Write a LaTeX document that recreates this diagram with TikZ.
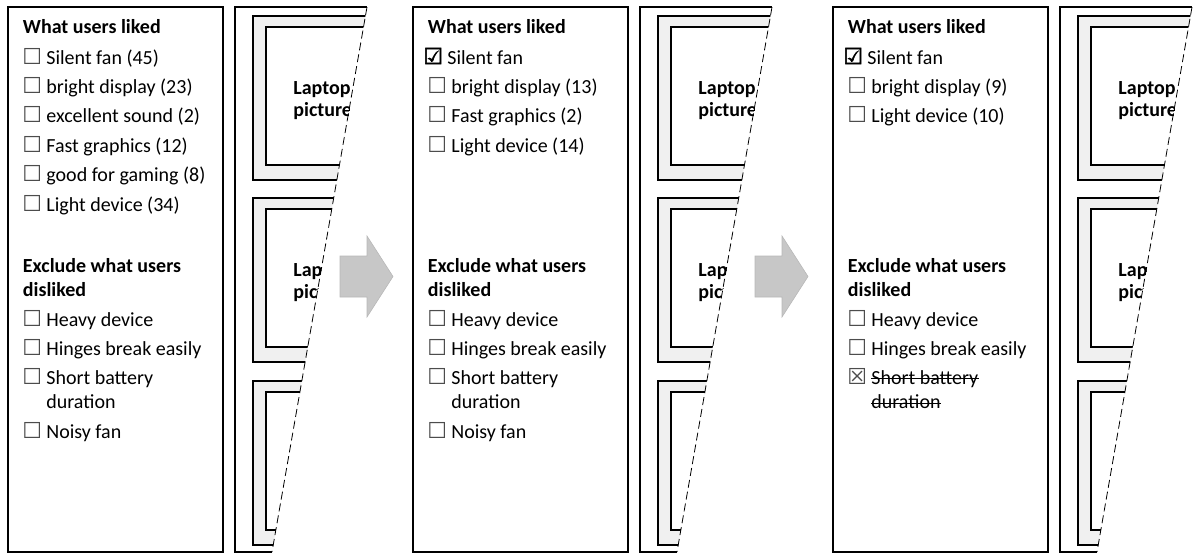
\documentclass[tikz,border=0pt]{standalone}
\usepackage{fontspec}
\setmainfont{Carlito}
\newfontfamily\symfont{DejaVu Sans}
\newfontfamily\boldsymfont[FakeBold=2.5]{DejaVu Sans}

\tikzset{
  listbox/.style={draw, line width=0.8pt},
  stripedge/.style={line width=0.8pt},
  cutline/.style={line width=0.4pt, dash pattern=on 4pt off 2pt},
  cardouter/.style={draw, line width=0.7pt, fill=black!6},
  cardinner/.style={draw, line width=0.7pt, fill=white},
  cardtext/.style={anchor=base west, inner sep=0pt, font=\fontsize{10}{11}\selectfont\bfseries},
  heading/.style={anchor=base west, inner sep=0pt, font=\fontsize{10}{12.2}\selectfont\bfseries},
  entry/.style={anchor=base west, inner sep=0pt, font=\fontsize{10}{12.2}\selectfont},
  tick/.style={anchor=base west, inner sep=0pt, font=\fontsize{11}{12}\symfont, text=black!70},
  ticked/.style={tick, font=\fontsize{11}{12}\boldsymfont, text=black},
  strike/.style={line width=0.4pt},
  nextstep/.style={fill=black!22, draw=black!28, line width=0.3pt},
}

\begin{document}
\begin{tikzpicture}[x=0.5pt, y=-0.5pt]
\useasboundingbox (0,0) rectangle (1193,553);

% three screens: the filter list and a strip of laptop cards cut off
\foreach \px/\p in {8/a, 413/b, 833/c} {
\begin{scope}[shift={(\px,0)}]
  \draw[listbox] (0,7) rectangle (215,552);
  \begin{scope}
    \clip (227,7) -- (359,7) -- (264,552) -- (227,552) -- cycle;
    \foreach \t [count=\k] in {16, 198, 381} {
      \draw[cardouter] (245,\t) rectangle (420,\t+164);
      \draw[cardinner] (258,\t+11) rectangle (420,\t+149);
      \node[cardtext] (\p-pic\k) at (285,\t+78) {Laptop};
      \node[cardtext] (\p-pic\k b) at (285,\t+100) {picture};
    }
  \end{scope}
  \draw[stripedge] (359,7) -- (227,7) -- (227,552) -- (264,552);
  \draw[cutline] (359,7) -- (264,552);
  % second half of the list is the same on every screen
  \node[heading] (\p-dislike) at (14.5,272) {Exclude what users};
  \node[heading] (\p-dislikeb) at (14.5,296.4) {disliked};
  \foreach \y/\t [count=\i] in {326/Heavy device, 355/Hinges break easily} {
    \node[tick] (\p-xbox\i) at (14,\y) {☐};
    \node[entry] (\p-dislike\i) at (38,\y) {\t};
  }
  \node[entry] (\p-dislike3) at (38,384) {Short battery};
  \node[entry] (\p-dislike3b) at (38,408.4) {duration};
\end{scope}
}

% first screen, nothing ticked yet
\begin{scope}[shift={(8,0)}]
  \node[heading] (a-like) at (14.5,33) {What users liked};
  \foreach \y/\t [count=\i] in {64/Silent fan (45), 93.4/bright display (23),
      122.8/excellent sound (2), 152.2/Fast graphics (12),
      181.6/good for gaming (8), 211/Light device (34)} {
    \node[tick] (a-box\i) at (14,\y) {☐};
    \node[entry] (a-like\i) at (38,\y) {\t};
  }
  \node[tick] (a-xbox3) at (14,384) {☐};
  \node[tick] (a-xbox4) at (14,438) {☐};
  \node[entry] (a-dislike4) at (38,438) {Noisy fan};
\end{scope}

% second screen
\begin{scope}[shift={(413,0)}]
  \node[heading] (b-like) at (14.5,33) {What users liked};
  \node[ticked] (b-box1) at (10,64) {☑};
  \node[entry] (b-like1) at (34,64) {Silent fan};
  \foreach \y/\t [count=\i from 2] in {93.4/bright display (13),
      122.8/Fast graphics (2), 152.2/Light device (14)} {
    \node[tick] (b-box\i) at (14,\y) {☐};
    \node[entry] (b-like\i) at (38,\y) {\t};
  }
  \node[tick] (b-xbox3) at (14,384) {☐};
  \node[tick] (b-xbox4) at (14,438) {☐};
  \node[entry] (b-dislike4) at (38,438) {Noisy fan};
\end{scope}

% third screen
\begin{scope}[shift={(833,0)}]
  \node[heading] (c-like) at (14.5,33) {What users liked};
  \node[ticked] (c-box1) at (10,64) {☑};
  \node[entry] (c-like1) at (34,64) {Silent fan};
  \foreach \y/\t [count=\i from 2] in {93.4/bright display (9),
      122.8/Light device (10)} {
    \node[tick] (c-box\i) at (14,\y) {☐};
    \node[entry] (c-like\i) at (38,\y) {\t};
  }
  \node[tick] (c-xbox3) at (14,384) {☒};
  % crossed out
  \draw[strike] ([yshift=2.6pt]c-dislike3.base west) -- ([yshift=2.6pt]c-dislike3.base east);
  \draw[strike] ([yshift=2.6pt]c-dislike3b.base west) -- ([yshift=2.6pt]c-dislike3b.base east);
\end{scope}

% block arrows between the screens
\path[nextstep] (340,256) -- (367,256) -- (367,236) -- (393,276.5)
  -- (367,317) -- (367,297) -- (340,297) -- cycle;
\path[nextstep] (755,256) -- (782,256) -- (782,236) -- (808,276.5)
  -- (782,317) -- (782,297) -- (755,297) -- cycle;

\end{tikzpicture}
\end{document}
